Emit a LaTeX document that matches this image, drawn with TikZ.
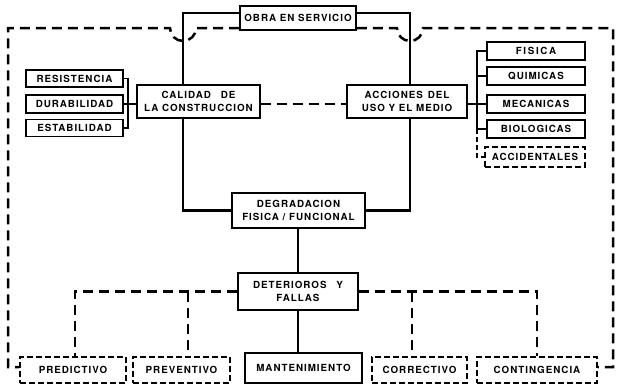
\documentclass[tikz,border=0pt]{standalone}
\usepackage{fontspec}
\setmainfont{TeX Gyre Heros}[LetterSpace=10]
\begin{document}
\begin{tikzpicture}[x=1pt,y=-1pt]
\useasboundingbox (0,0) rectangle (620,384);
\tikzset{
 box/.style={draw, line width=1.7pt, inner sep=0pt, align=center, font=\bfseries\fontsize{9.8}{13}\selectfont},
 dbox/.style={box, dash pattern=on 6pt off 3pt},
 conn/.style={line width=2.6pt},
 thin conn/.style={line width=1.7pt},
 dconn/.style={line width=2.5pt, dash pattern=on 10pt off 6pt},
}
% nodes
\node[box, minimum width=116pt, minimum height=24pt] (obra) at (298,18) {OBRA EN SERVICIO};
\node[box, minimum width=123pt, minimum height=33pt] (cal) at (198.5,101.5) {CALIDAD\quad DE\\LA CONSTRUCCION};
\node[box, minimum width=120pt, minimum height=33pt] (acc) at (407,101.5) {ACCIONES\enspace DEL\\USO Y EL MEDIO};
\node[box, minimum width=97pt, minimum height=17pt] (res) at (74.5,78.5) {RESISTENCIA};
\node[box, minimum width=97pt, minimum height=18pt] (dur) at (74.5,104) {DURABILIDAD};
\node[box, minimum width=97pt, minimum height=17pt] (est) at (74.5,128) {ESTABILIDAD};
\node[box, minimum width=98pt, minimum height=18pt] (fis) at (536,51) {F\,I\,S\,I\,C\,A};
\node[box, minimum width=98pt, minimum height=18pt] (qui) at (536,76) {QUIMICAS};
\node[box, minimum width=98pt, minimum height=18pt] (mec) at (536,104) {MECANICAS};
\node[box, minimum width=98pt, minimum height=18pt] (bio) at (536,129) {BIOLOGICAS};
\node[dbox, minimum width=100pt, minimum height=20pt] (acd) at (535,157) {ACCIDENTALES};
\node[box, minimum width=133pt, minimum height=35pt] (deg) at (298.5,210.5) {DEGRADACION\\FISICA / FUNCIONAL};
\node[box, minimum width=120pt, minimum height=37pt] (det) at (298,291.5) {DETERIOROS\quad Y\\FALLAS};
\node[dbox, minimum width=106pt, minimum height=26pt] (pred) at (73,370) {PREDICTIVO};
\node[dbox, minimum width=97pt, minimum height=26pt] (prev) at (181.5,370) {PREVENTIVO};
\node[box, line width=2.3pt, minimum width=117pt, minimum height=30pt] (man) at (303.5,368) {MANTENIMIENTO};
\node[dbox, minimum width=95pt, minimum height=26pt] (corr) at (419.5,370) {CORRECTIVO};
\node[dbox, minimum width=120pt, minimum height=26pt] (cont) at (537,370) {CONTINGENCIA};
% helper coordinates
\coordinate (lx) at (183,0);
\coordinate (rx) at (410,0);
\coordinate (bl) at (128,0);
\coordinate (br) at (477,0);
\coordinate (px) at (188,0);
\coordinate (qx) at (412,0);
% solid top connectors
\draw[conn] ([yshift=5pt]obra.west) -| (lx |- cal.north);
\draw[conn] ([yshift=5pt]obra.east) -| (rx |- acc.north);
% dashed outer loop
\draw[dconn] ([yshift=-10pt]obra.west) -- (196,28) .. controls (196,35.2) and (190.2,41) .. (183,41) .. controls (175.8,41) and (170,35.2) .. (170,28) -- (8,28) -- (8,367) -- ([yshift=3pt]pred.west);
\draw[dconn] ([yshift=-10pt]obra.east) -- (397,28) .. controls (397,35.2) and (402.8,41) .. (410,41) .. controls (417.2,41) and (423,35.2) .. (423,28) -- (613,28) -- (613,367) -- ([yshift=3pt]cont.east);
% left bracket
\draw[thin conn] (res.east) -| (bl |- est.east) -- (est.east);
\draw[thin conn] (dur.east) -- (cal.west |- dur.east);
% right bracket
\draw[thin conn] (fis.west) -| (br |- bio.west) -- (bio.west);
\draw[thin conn] (qui.west) -- (br |- qui.west);
\draw[thin conn] (acc.east |- mec.west) -- (mec.west);
\draw[thin conn, dash pattern=on 5pt off 3pt] (br |- bio.west) |- (acd.west);
% calidad - acciones
\draw[dconn] (cal.east |- dur.east) -- (acc.west |- dur.east);
% to degradacion
\draw[conn] (lx |- cal.south) |- (deg.west);
\draw[conn] (rx |- acc.south) |- (deg.east);
\draw[conn] (det.north |- deg.south) -- (det.north);
\draw[conn] (det.south) -- (det.south |- man.north);
% dashed bottom
\draw[dconn] (det.west) -| ([xshift=2pt]pred.north);
\draw[dconn] (px |- det.west) -- (px |- prev.north);
\draw[dconn] (det.east) -| (cont.north);
\draw[dconn] (qx |- det.east) -- (qx |- corr.north);
\end{tikzpicture}
\end{document}
